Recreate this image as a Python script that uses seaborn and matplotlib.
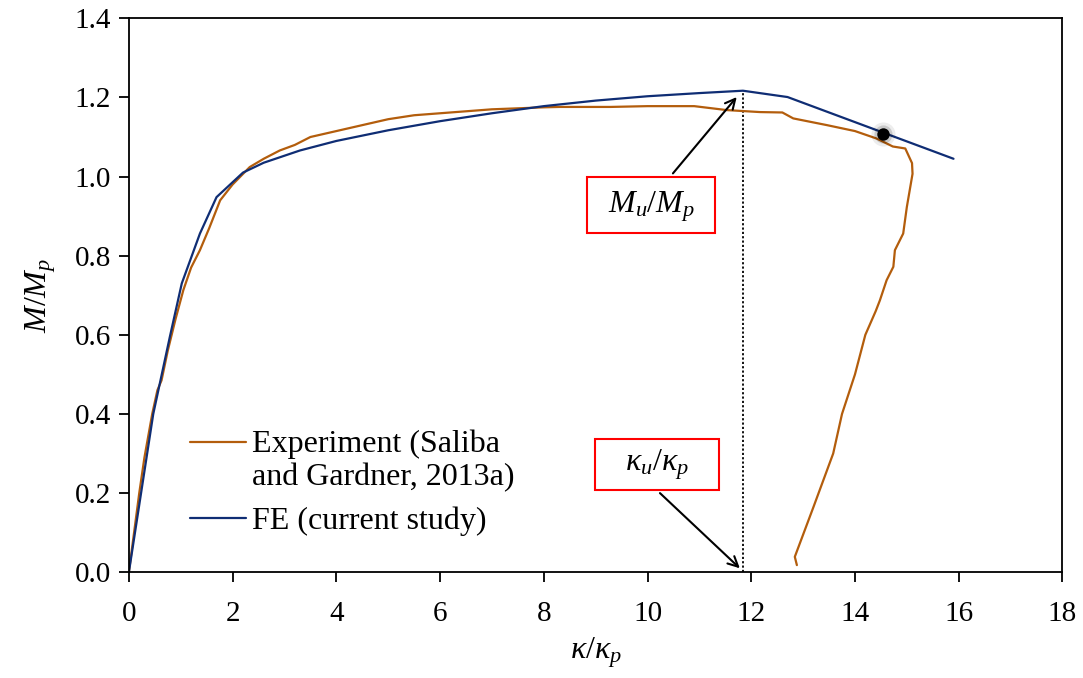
import numpy as np
import pandas as pd
import matplotlib
matplotlib.use("Agg")
import matplotlib.pyplot as plt
from matplotlib.patches import Rectangle
import seaborn as sns

# ---- data ----
fe_kappa = [0, 0.47, 0.79, 1.02, 1.37, 1.69, 2.2, 2.6, 3.3, 4.0, 5.0, 6.0, 7.0,
            8.0, 9.0, 10.0, 11.0, 11.84, 12.7, 15.9]
fe_moment = [0, 0.40, 0.595, 0.73, 0.856, 0.948, 1.01, 1.035, 1.066, 1.09, 1.117,
             1.14, 1.16, 1.178, 1.192, 1.203, 1.211, 1.217, 1.201, 1.045]

exp_kappa = [0, 0.1, 0.2, 0.3, 0.45, 0.55, 0.63, 0.75, 0.9, 1.05, 1.2, 1.37, 1.55,
             1.76, 2.0, 2.33, 2.6, 2.91, 3.2, 3.5, 4.0, 4.5, 5.0, 5.5, 6.0, 6.5,
             7.0, 8.0, 8.3, 9.28, 10.0, 10.9, 11.53, 12.17, 12.6, 12.81, 13.46,
             14.0, 14.42, 14.73, 14.97, 15.1, 15.11, 15.0, 14.93, 14.77, 14.74,
             14.61, 14.48, 14.4, 14.2, 14.0, 13.75, 13.58, 13.2, 12.84, 12.88]
exp_moment = [0, 0.1, 0.2, 0.29, 0.40, 0.46, 0.485, 0.56, 0.64, 0.713, 0.77, 0.814,
              0.87, 0.94, 0.98, 1.024, 1.045, 1.066, 1.08, 1.10, 1.115, 1.13, 1.145,
              1.155, 1.16, 1.165, 1.17, 1.175, 1.176, 1.176, 1.178, 1.178, 1.168,
              1.163, 1.162, 1.147, 1.13, 1.115, 1.096, 1.076, 1.071, 1.034, 1.007,
              0.923, 0.856, 0.814, 0.772, 0.738, 0.687, 0.66, 0.6, 0.5, 0.4, 0.3,
              0.165, 0.039, 0.018]

dot_kappa = [14.55]
dot_moment = [1.108]

x_ticks = [0, 2, 4, 6, 8, 10, 12, 14, 16, 18]
y_ticks = [0.0, 0.2, 0.4, 0.6, 0.8, 1.0, 1.2, 1.4]

labels = ["Experiment (Saliba\nand Gardner, 2013a)", "FE (current study)"]
colors = ["#B35D0C", "#0F2D74"]

# ---- styling ----
sns.set_theme(style="ticks")
plt.rcParams["font.family"] = ["Liberation Serif", "DejaVu Serif"]
plt.rcParams["mathtext.fontset"] = "custom"
plt.rcParams["mathtext.rm"] = "Liberation Serif"
plt.rcParams["mathtext.it"] = "Liberation Serif:italic"
plt.rcParams["text.color"] = "black"
FS = 21

df = pd.concat([
    pd.DataFrame({"kappa": exp_kappa, "M": exp_moment, "series": labels[0]}),
    pd.DataFrame({"kappa": fe_kappa, "M": fe_moment, "series": labels[1]}),
])

fig = plt.figure(figsize=(10.83, 6.78), dpi=100)
ax = fig.add_axes([0.119, 0.156, 0.981 - 0.119, 0.973 - 0.156])

sns.lineplot(data=df, x="kappa", y="M", hue="series", palette=colors,
             hue_order=labels, sort=False, estimator=None, units="series",
             linewidth=1.6, ax=ax)

# black dot
ax.scatter(dot_kappa, dot_moment, s=300, color="black", alpha=0.07, zorder=5, linewidths=0)
ax.scatter(dot_kappa, dot_moment, s=170, color="black", alpha=0.15, zorder=5, linewidths=0)
ax.scatter(dot_kappa, dot_moment, s=80, color="black", zorder=6, linewidths=0)

# ultimate point
i_u = int(np.argmax(fe_moment))
k_u, m_u = fe_kappa[i_u], fe_moment[i_u]
ax.vlines(k_u, 0, m_u, colors="black", linestyles=(0, (1.2, 1.2)), linewidth=1.3, zorder=1)

# annotation boxes
ax.add_patch(Rectangle((8.83, 0.857), 11.30 - 8.83, 0.998 - 0.857, fc="white",
                       ec="#FF0000", lw=1.5, zorder=4))
ax.text(10.07, 0.925, r"$M_u/M_p$", fontsize=FS + 2, ha="center", va="center",
        color="black", zorder=5)
ax.add_patch(Rectangle((8.99, 0.207), 11.38 - 8.99, 0.336 - 0.207, fc="white",
                       ec="#FF0000", lw=1.5, zorder=4))
ax.text(10.18, 0.272, r"$\kappa_u/\kappa_p$", fontsize=FS + 2, ha="center", va="center",
        color="black", zorder=5)
ax.annotate("", xy=(11.72, 1.201), xytext=(10.49, 1.008),
            arrowprops=dict(arrowstyle="->,head_length=0.6,head_width=0.3", color="black",
                            lw=1.5, shrinkA=0, shrinkB=0))
ax.annotate("", xy=(11.78, 0.01), xytext=(10.24, 0.2),
            arrowprops=dict(arrowstyle="->,head_length=0.6,head_width=0.3", color="black",
                            lw=1.5, shrinkA=0, shrinkB=0))

ax.set_xlim(0, 18)
ax.set_ylim(0, 1.4)
ax.set_xticks(x_ticks)
ax.set_yticks(y_ticks)
ax.set_yticklabels([f"{v:.1f}" for v in y_ticks])
ax.tick_params(axis="both", labelsize=FS, direction="out", length=7, width=1.3,
               color="black", labelcolor="black", pad=6)
ax.tick_params(axis="x", pad=14)
for s in ax.spines.values():
    s.set_visible(True)
    s.set_color("black")
    s.set_linewidth(1.3)

ax.set_xlabel(r"$\kappa/\kappa_p$", fontsize=FS + 2, labelpad=6, color="black")
ax.set_ylabel(r"$M/M_p$", fontsize=FS + 2, labelpad=12, color="black")

leg = ax.legend(loc="upper left", bbox_to_anchor=(0.066, 0.258), frameon=False,
                fontsize=FS + 2, handlelength=1.75, handletextpad=0.18, borderpad=0,
                borderaxespad=0, labelspacing=0.45)
for t in leg.get_texts():
    t.set_linespacing(1.2)
    t.set_color("black")
# align the first handle with the first text line (as in the reference)
h0 = leg.legend_handles[0]
h0.set_ydata(np.asarray(h0.get_ydata()) + 0.6 * (FS + 2))

fig.savefig("out.png", dpi=100)
